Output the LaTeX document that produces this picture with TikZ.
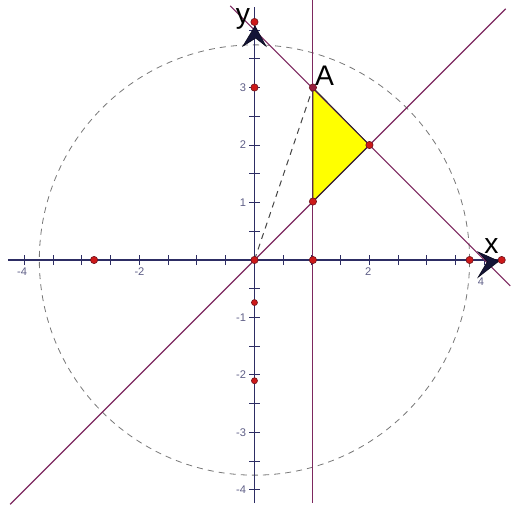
\documentclass[tikz,border=0pt]{standalone}
\usepackage{fontspec}
\setmainfont{Liberation Sans}
\definecolor{axiscol}{RGB}{45,45,100}
\definecolor{labcol}{RGB}{95,95,135}
\definecolor{linecol}{RGB}{125,40,95}
\definecolor{circcol}{RGB}{120,120,120}
\definecolor{segcol}{RGB}{70,70,70}
\definecolor{dotfill}{RGB}{205,25,25}
\definecolor{dotdraw}{RGB}{110,20,30}
\definecolor{dotA}{RGB}{150,30,60}
\definecolor{arrfill}{RGB}{20,20,55}
\definecolor{arrdraw}{RGB}{10,10,30}
\definecolor{triyellow}{RGB}{255,255,0}
\definecolor{triedge}{RGB}{40,40,40}
\begin{document}
\begin{tikzpicture}[x=1cm,y=1cm,
  axis/.style={draw=axiscol,line width=0.8pt},
  tickmark/.style={draw=axiscol,line width=0.5pt},
  ticklabel/.style={text=labcol,font=\fontsize{5.5}{6}\selectfont,inner sep=0pt},
  graphline/.style={draw=linecol,line width=0.55pt},
  circ/.style={draw=circcol,line width=0.4pt,dash pattern=on 3pt off 2.5pt},
  seg/.style={draw=segcol,line width=0.5pt,dash pattern=on 3pt off 2.5pt},
  dot/.style={circle,fill=dotfill,draw=dotdraw,line width=0.3pt,inner sep=0pt,minimum size=3.6pt},
  arrowhead/.style={fill=arrfill,draw=arrdraw,line width=0.3pt},
  biglabel/.style={font=\fontsize{14}{16}\selectfont,inner sep=0pt}
]
\useasboundingbox (-4.426,-4.383) rectangle (4.478,4.522);

% named coordinates
\coordinate (O) at (0,0);
\coordinate (xl) at (-4.29,0);
\coordinate (xr) at (4.36,0);
\coordinate (yb) at (0,-4.23);
\coordinate (yt) at (0,4.4);
\coordinate (d1) at (-4.25,-4.25);
\coordinate (d2) at (4.37,4.37);
\coordinate (e1) at (-0.42,4.42);
\coordinate (e2) at (4.45,-0.45);
\coordinate (v1) at (1.017,4.522);
\coordinate (v2) at (1.017,-4.23);
\coordinate (A) at (1.017,3);
\coordinate (B) at (2,2);
\coordinate (C) at (1.017,1.017);

% filled triangle
\fill[triyellow] (A) -- (B) -- (C) -- cycle;

% dashed circle
\draw[circ] (O) circle (3.742);

% axes
\draw[axis] (xl) -- (xr);
\draw[axis] (yb) -- (yt);

% ticks
\foreach \t in {-4,-3.5,...,-0.5,0.5,1,...,4}{
  \draw[tickmark] (\t,-0.09) -- (\t,0.09);
  \draw[tickmark] (-0.09,\t) -- (0.09,\t);
}
% tick labels
\node[ticklabel] (lxm4) at (-4.04,-0.2) {-4};
\node[ticklabel] (lxm2) at (-2.0,-0.2) {-2};
\node[ticklabel] (lx2) at (1.98,-0.2) {2};
\node[ticklabel] (lx4) at (3.94,-0.38) {4};
\node[ticklabel,anchor=east] (ly3) at (-0.14,3) {3};
\node[ticklabel,anchor=east] (ly2) at (-0.14,2) {2};
\node[ticklabel,anchor=east] (ly1) at (-0.14,1) {1};
\node[ticklabel,anchor=east] (lym1) at (-0.14,-1) {-1};
\node[ticklabel,anchor=east] (lym2) at (-0.14,-2) {-2};
\node[ticklabel,anchor=east] (lym3) at (-0.14,-3) {-3};
\node[ticklabel,anchor=east] (lym4) at (-0.14,-4) {-4};

% lines
\draw[graphline] (v1) -- (v2);
\draw[graphline] (d1) -- (d2);
\draw[graphline] (e1) -- (e2);
\draw[line width=0.4pt,draw=triedge] (A) -- (B) -- (C) -- cycle;

% dashed segment O-A
\draw[seg] (O) -- (A);

% arrowheads
\filldraw[arrowhead] (0.01,4.07) -- (0.2,3.72) -- (0.02,3.86) -- (-0.2,3.72) -- cycle;
\filldraw[arrowhead] (4.25,-0.02) -- (3.89,0.14) -- (4.05,-0.03) -- (3.89,-0.3) -- cycle;

% points
\node[dot] (pO) at (O) {};
\node[dot] (p10) at (1.017,0) {};
\node[dot] (p03) at (0,3) {};
\node[dot] (pyt) at (0,4.14) {};
\node[dot] (pxm) at (-2.79,0) {};
\node[dot] (pxc) at (3.742,0) {};
\node[dot] (pxe) at (4.3,0) {};
\node[dot,minimum size=3pt] (pym1) at (0,-0.74) {};
\node[dot,minimum size=3pt] (pym2) at (0,-2.1) {};
\node[dot,fill=dotA] (pA) at (A) {};
\node[dot] (pB) at (B) {};
\node[dot] (pC) at (C) {};

% labels
\node[biglabel] (lA) at (1.22,3.2) {A};
\node[biglabel] (ly) at (-0.2,4.2) {y};
\node[biglabel] (lx) at (4.12,0.24) {x};
\end{tikzpicture}
\end{document}
